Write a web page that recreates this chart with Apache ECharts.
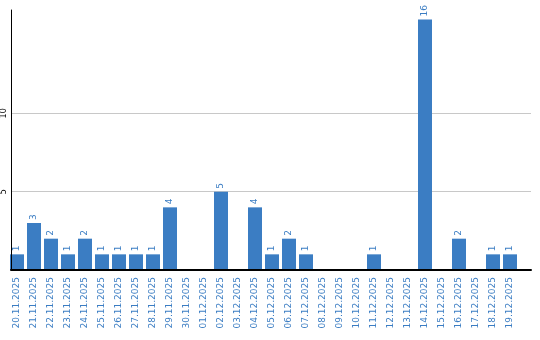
<!DOCTYPE html>
<html><head><meta charset="utf-8">
<script src="https://cdn.jsdelivr.net/npm/echarts@6/dist/echarts.min.js"></script>
<style>html,body{margin:0;padding:0;background:#fff}#c{width:540px;height:340px}</style>
</head><body><div id="c"></div>
<script>
const categories = ['20.11.2025','21.11.2025','22.11.2025','23.11.2025','24.11.2025','25.11.2025','26.11.2025','27.11.2025','28.11.2025','29.11.2025','30.11.2025','01.12.2025','02.12.2025','03.12.2025','04.12.2025','05.12.2025','06.12.2025','07.12.2025','08.12.2025','09.12.2025','10.12.2025','11.12.2025','12.12.2025','13.12.2025','14.12.2025','15.12.2025','16.12.2025','17.12.2025','18.12.2025','19.12.2025'];
const values = [1,3,2,1,2,1,1,1,1,4,0,0,5,0,4,1,2,1,0,0,0,1,0,0,16,0,2,0,1,1];
const yTicks = [5,10];
const yMax = 16.6;

const blue = '#3b7dc3';
const chart = echarts.init(document.getElementById('c'));
chart.setOption({
  animation:false,
  grid:[
    {left:8.5, top:10, width:510, height:260},
    {left:10, top:10, width:521, height:260}
  ],
  xAxis:[
    {type:'category', gridIndex:0, data:categories, boundaryGap:true,
     axisLine:{show:false}, axisTick:{show:false},
     axisLabel:{rotate:90, interval:0, color:blue, fontFamily:'DejaVu Sans', fontSize:9, margin:7}},
    {type:'value', gridIndex:1, min:0, max:1, axisLabel:{show:false}, axisTick:{show:false}, splitLine:{show:false},
     axisLine:{show:true, lineStyle:{color:'#000', width:2}}, z:5}
  ],
  yAxis:[
    {type:'value', gridIndex:0, min:0, max:yMax, show:false},
    {type:'value', gridIndex:1, min:0, max:yMax, interval:5, z:5,
     axisLine:{show:true, lineStyle:{color:'#000', width:1}}, axisTick:{show:false}, splitLine:{show:false},
     axisLabel:{rotate:90, margin:3, fontSize:8, fontFamily:'DejaVu Sans', color:'#000',
       formatter:v=> yTicks.includes(v) ? String(v) : ''}}
  ],
  series:[
    {type:'line', xAxisIndex:1, yAxisIndex:1, data:[], silent:true, z:1,
     markLine:{silent:true, symbol:'none', label:{show:false}, z:1,
       lineStyle:{color:'#c8c8c8', type:'solid', width:1},
       data:yTicks.map(t=>({yAxis:t}))}},
    {type:'bar', xAxisIndex:0, yAxisIndex:0, data:values.map(v=>v===0?null:v), barWidth:14, z:3,
     itemStyle:{color:blue},
     label:{show:true, position:'top', rotate:90, align:'left', verticalAlign:'middle', distance:3,
       color:blue, fontSize:9, fontFamily:'DejaVu Sans'}}
  ]
});
</script></body></html>
